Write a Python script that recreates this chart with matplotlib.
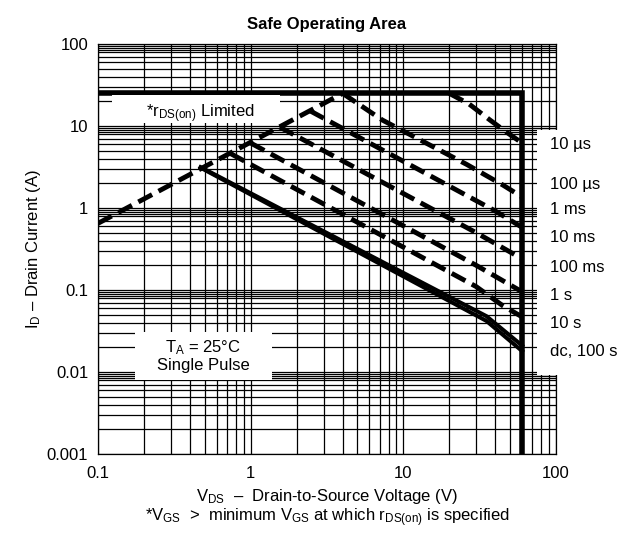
import matplotlib
matplotlib.use("Agg")
import matplotlib.pyplot as plt
from matplotlib.patches import Rectangle
from matplotlib.ticker import FixedLocator, NullFormatter

plt.rcParams['font.family'] = ['Liberation Sans', 'DejaVu Sans']
plt.rcParams['mathtext.fontset'] = 'custom'
plt.rcParams['mathtext.rm'] = 'Liberation Sans'
plt.rcParams['mathtext.it'] = 'Liberation Sans:italic'

# ---- data (V in volts, I in amps) ----
rds_v = [0.1, 4.0]
rds_i = [0.65, 25.0]

limit_v = [0.1, 60.0, 60.0]
limit_i = [25.0, 25.0, 0.001]

us10_v = [20.0, 27.0, 37.0, 47.0, 60.0]
us10_i = [25.0, 18.5, 11.8, 8.5, 6.2]

us100_v = [4.0, 7.3, 26.0, 45.0, 60.0]
us100_i = [25.0, 11.8, 3.4, 1.9, 1.36]

ms1_v = [2.45, 40.0, 60.0]
ms1_i = [15.3, 0.92, 0.58]

ms10_v = [1.55, 30.0, 60.0]
ms10_i = [9.7, 0.5, 0.24]

ms100_v = [1.0, 30.0, 60.0]
ms100_i = [6.2, 0.2, 0.095]

s1_v = [0.74, 30.0, 45.0, 60.0]
s1_i = [4.6, 0.11, 0.064, 0.047]

s10_v = [0.47, 35.0, 60.0]
s10_i = [3.15, 0.048, 0.021]

dc_v = [0.47, 35.0, 60.0]
dc_i = [3.1, 0.042, 0.018]

curve_labels = ["10 µs", "100 µs", "1 ms", "10 ms", "100 ms", "1 s", "10 s", "dc, 100 s"]
x_ticks = [0.1, 1, 10, 100]
x_ticklabels = ["0.1", "1", "10", "100"]
y_ticks = [0.001, 0.01, 0.1, 1, 10, 100]
y_ticklabels = ["0.001", "0.01", "0.1", "1", "10", "100"]

FS = 12

fig = plt.figure(figsize=(6.25, 5.35), dpi=100)
ax = fig.add_axes([98/625, 1-454/535, 458/625, 410/535])
ax.set_xscale('log')
ax.set_yscale('log')
ax.set_xlim(0.1, 100)
ax.set_ylim(0.001, 100)

# grid
xminor = []
for d in [0.1, 1, 10]:
    for m in range(2, 10):
        xminor.append(d * m)
yminor = []
for d in [0.001, 0.01, 0.1, 1, 10]:
    for m in [2, 3, 4, 5, 6, 7, 8, 8.5, 9, 9.5]:
        yminor.append(d * m)
ax.xaxis.set_major_locator(FixedLocator(x_ticks))
ax.yaxis.set_major_locator(FixedLocator(y_ticks))
ax.xaxis.set_minor_locator(FixedLocator(xminor))
ax.yaxis.set_minor_locator(FixedLocator(yminor))
ax.xaxis.set_minor_formatter(NullFormatter())
ax.yaxis.set_minor_formatter(NullFormatter())
ax.set_xticklabels(x_ticklabels)
ax.set_yticklabels(y_ticklabels)
ax.grid(True, which='both', color='black', linewidth=0.9, zorder=0)
ax.tick_params(which='both', length=0, labelsize=FS)
ax.tick_params(axis='x', pad=9)
ax.tick_params(axis='y', pad=7)
for s in ax.spines.values():
    s.set_linewidth(0.9)
ax.set_axisbelow(True)

kw = dict(color='black', linewidth=3.5, dashes=(3.2, 1.5), zorder=4)
ax.plot(rds_v, rds_i, **kw)
ax.plot(us10_v, us10_i, **kw)
ax.plot(us100_v, us100_i, **kw)
ax.plot(ms1_v, ms1_i, **kw)
ax.plot(ms10_v, ms10_i, **kw)
ax.plot(ms100_v, ms100_i, **kw)
ax.plot(s1_v, s1_i, **kw)
ax.plot(s10_v, s10_i, color='black', linewidth=2.9, zorder=4)
ax.plot(dc_v, dc_i, color='black', linewidth=2.9, zorder=4)
ax.plot(limit_v, limit_i, color='black', linewidth=4.0, solid_joinstyle='miter', zorder=5)

# white block at right where the time labels sit
ax.add_patch(Rectangle((0.9585, 0.193), 0.1, 0.597, transform=ax.transAxes,
                       facecolor='white', edgecolor='none', zorder=6, clip_on=False))
label_y = [145, 184, 210, 238, 267, 295, 323, 352]
for lab, py in zip(curve_labels, label_y):
    fig.text(550/625, 1 - py/535, lab, fontsize=FS, ha='left', va='center', zorder=7)

# annotation boxes
ax.add_patch(Rectangle((0.0306, 0.807), 0.366, 0.069, transform=ax.transAxes,
                       facecolor='white', edgecolor='none', zorder=6))
ax.text(0.224, 0.830, r"*r$_{\mathregular{DS(on)}}$ Limited", transform=ax.transAxes,
        ha='center', va='center', fontsize=FS, zorder=7)
ax.add_patch(Rectangle((0.081, 0.180), 0.299, 0.118, transform=ax.transAxes,
                       facecolor='white', edgecolor='none', zorder=6))
ax.text(0.230, 0.240, "T$_{\\mathregular{A}}$ = 25°C\nSingle Pulse", transform=ax.transAxes,
        ha='center', va='center', fontsize=FS, zorder=7, linespacing=1.05)

ax.set_title("Safe Operating Area", fontsize=FS, fontweight='bold', pad=11)
ax.set_ylabel(r"I$_{\mathregular{D}}$ – Drain Current (A)", fontsize=FS, labelpad=3)
ax.set_xlabel(r"V$_{\mathregular{DS}}$  –  Drain-to-Source Voltage (V)", fontsize=FS, labelpad=4)
fig.text(327/625, 1 - 518/535,
         r"*V$_{\mathregular{GS}}$  >  minimum V$_{\mathregular{GS}}$ at which r$_{\mathregular{DS(on)}}$ is specified",
         ha='center', va='center', fontsize=FS)

fig.savefig("out.png", dpi=100)
